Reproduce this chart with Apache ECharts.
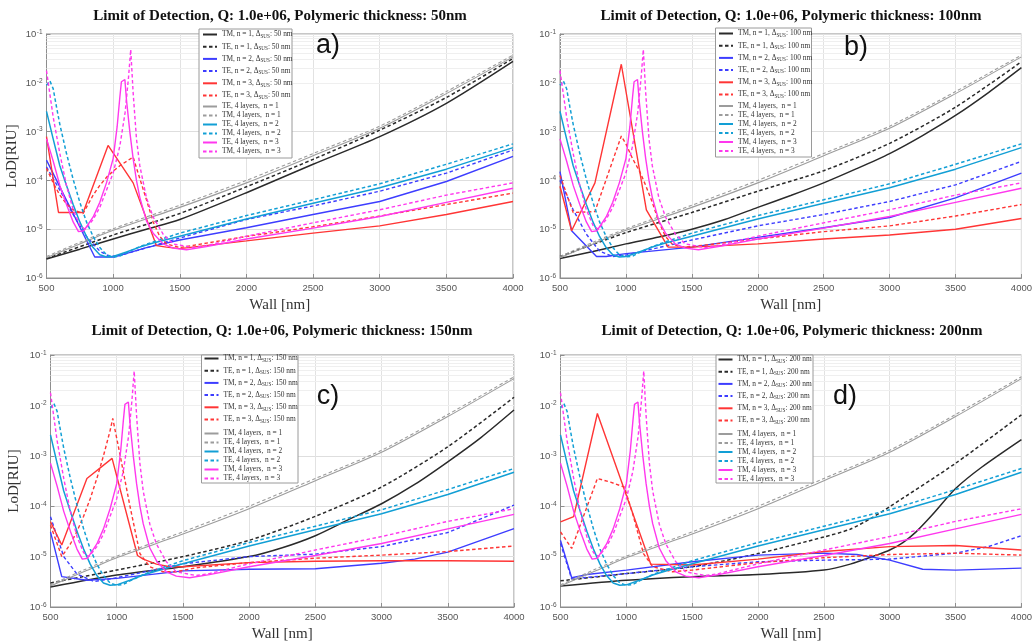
<!DOCTYPE html>
<html>
<head>
<meta charset="utf-8">
<script src="https://cdn.jsdelivr.net/npm/echarts@6/dist/echarts.min.js"></script>
<style>
  html, body { margin: 0; padding: 0; background: #fff; }
  #chart { width: 1035px; height: 643px; }
</style>
</head>
<body>
<div id="chart"></div>
<script>
// ---- Axis ticks ----
const wallTicks = [500, 1000, 1500, 2000, 2500, 3000, 3500, 4000];   // Wall [nm]
const lodRange = [1e-6, 1e-1];                                       // LoD [RIU]

// ---- Panel headings ----
const polymericThickness = [50, 100, 150, 200];   // nm, also the ΔSUS value of each panel
const panelTags = ['a)', 'b)', 'c)', 'd)'];

// ---- Legend labels ----
const modeLabels = ['TM, n = 1', 'TE, n = 1', 'TM, n = 2', 'TE, n = 2', 'TM, n = 3', 'TE, n = 3'];
const fourLayerLabelsA = ['TE, 4 layers,  n = 1', 'TM, 4 layers,  n = 1', 'TE, 4 layers,  n = 2',
                          'TM, 4 layers,  n = 2', 'TE, 4 layers,  n = 3', 'TM, 4 layers,  n = 3'];
const fourLayerLabels  = ['TM, 4 layers,  n = 1', 'TE, 4 layers,  n = 1', 'TM, 4 layers,  n = 2',
                          'TE, 4 layers,  n = 2', 'TM, 4 layers,  n = 3', 'TE, 4 layers,  n = 3'];

// ---- 4-layer reference curves (same in every panel): [wall nm, LoD] ----
const layersN1Solid = [[500,2.6e-6],[750,5.0e-6],[1000,9.5e-6],[1500,2.8e-5],[2000,8.9e-5],[2500,3.2e-4],[3000,1.17e-3],[3500,6.0e-3],[4000,3.4e-2]];
const layersN1Dash  = [[500,2.75e-6],[750,5.4e-6],[1000,1.02e-5],[1500,3.1e-5],[2000,1.0e-4],[2500,3.55e-4],[3000,1.29e-3],[3500,6.6e-3],[4000,3.7e-2]];
const layersN2Solid = [[500,2.6e-3],[550,7.1e-4],[600,2.0e-4],[650,7.9e-5],[700,3.2e-5],[750,1.41e-5],[800,7.1e-6],[850,4.2e-6],[900,3.0e-6],[950,2.7e-6],[1000,2.75e-6],[1100,3.4e-6],[1200,4.3e-6],[1300,5.2e-6],[1500,7.2e-6],[2000,1.62e-5],[2500,3.4e-5],[3000,7.1e-5],[3500,1.7e-4],[4000,4.7e-4]];
const layersN2Dash  = [[500,8.9e-3],[525,1.1e-2],[550,7.6e-3],[575,3.2e-3],[600,1.41e-3],[650,3.55e-4],[700,1.05e-4],[750,3.55e-5],[800,1.41e-5],[850,7.1e-6],[900,4.2e-6],[950,3.0e-6],[1000,2.7e-6],[1050,2.8e-6],[1100,3.3e-6],[1200,4.4e-6],[1300,5.5e-6],[1500,8.3e-6],[2000,1.9e-5],[2500,4.0e-5],[3000,8.5e-5],[3500,2.14e-4],[4000,5.6e-4]];
const layersN3Solid = [[500,7.1e-4],[550,2.5e-4],[600,7.9e-5],[650,3.2e-5],[700,1.41e-5],[740,8.9e-6],[780,9.3e-6],[850,1.78e-5],[900,3.55e-5],[950,8.9e-5],[1000,2.8e-4],[1030,1.26e-3],[1050,5.0e-3],[1062,1.05e-2],[1088,1.17e-2],[1100,4.5e-3],[1125,1.0e-3],[1150,2.8e-4],[1175,1.0e-4],[1200,4.5e-5],[1250,1.48e-5],[1300,8.3e-6],[1375,5.0e-6],[1450,4.1e-6],[1550,3.8e-6],[1700,4.4e-6],[2000,6.3e-6],[2500,1.05e-5],[3000,1.82e-5],[3500,3.55e-5],[4000,6.9e-5]];
const layersN3Dash  = [[500,1.78e-2],[550,2.0e-3],[600,3.55e-4],[650,7.9e-5],[700,2.5e-5],[750,1.2e-5],[790,1.0e-5],[850,1.58e-5],[900,2.8e-5],[950,6.3e-5],[1000,1.41e-4],[1050,5.0e-4],[1090,2.5e-3],[1115,1.26e-2],[1132,4.8e-2],[1140,4.4e-2],[1150,6.3e-3],[1175,7.1e-4],[1200,2.0e-4],[1250,4.4e-5],[1300,1.78e-5],[1375,7.9e-6],[1450,5.0e-6],[1600,4.2e-6],[1700,4.6e-6],[2000,7.2e-6],[2500,1.35e-5],[3000,2.5e-5],[3500,5.0e-5],[4000,8.9e-5]];

// ---- Polymeric-layer curves, ΔSUS = 50 nm ----
const tmN1_50 = [[500,2.45e-6],[750,3.9e-6],[1000,6.3e-6],[1250,1.0e-5],[1500,1.58e-5],[2000,5.6e-5],[2500,2.14e-4],[3000,7.9e-4],[3500,3.8e-3],[4000,2.75e-2]];
const teN1_50 = [[500,2.5e-6],[1000,7.6e-6],[1500,2.1e-5],[2000,7.4e-5],[2500,2.7e-4],[3000,1.07e-3],[3500,5.0e-3],[4000,3.16e-2]];
const tmN2_50 = [[500,2.6e-4],[862,2.7e-6],[1012,2.7e-6],[1250,4.2e-6],[1500,6.0e-6],[2000,1.07e-5],[2500,2.0e-5],[3000,3.7e-5],[3500,9.5e-5],[4000,3.1e-4]];
const teN2_50 = [[500,1.9e-4],[600,6.3e-5],[700,2.0e-5],[800,7.1e-6],[900,3.55e-6],[975,2.75e-6],[1050,2.9e-6],[1200,3.8e-6],[1500,6.6e-6],[2000,1.58e-5],[2500,3.0e-5],[3000,6.0e-5],[3500,1.41e-4],[4000,4.2e-4]];
const tmN3_50 = [[500,7.9e-4],[590,2.2e-5],[775,2.2e-5],[962,5.2e-4],[1150,8.9e-5],[1325,4.6e-6],[1400,4.3e-6],[1500,4.0e-6],[2000,5.75e-6],[2500,8.3e-6],[3000,1.17e-5],[3500,2.0e-5],[4000,3.7e-5]];
const teN3_50 = [[500,1.78e-4],[550,8.9e-5],[600,5.0e-5],[650,3.3e-5],[700,2.5e-5],[775,2.1e-5],[850,5.0e-5],[900,7.9e-5],[962,1.26e-4],[1050,2.0e-4],[1150,3.0e-4],[1170,2.0e-4],[1250,4.0e-5],[1300,1.41e-5],[1350,7.1e-6],[1400,5.0e-6],[1500,4.2e-6],[2000,7.1e-6],[2500,1.12e-5],[3000,1.86e-5],[3500,3.2e-5],[4000,5.5e-5]];

// ---- ΔSUS = 100 nm ----
const tmN1_100 = [[500,2.5e-6],[750,3.5e-6],[1000,5.0e-6],[1250,6.9e-6],[1500,1.0e-5],[1750,1.58e-5],[2000,2.8e-5],[2250,4.9e-5],[2500,8.9e-5],[2750,1.74e-4],[3000,3.55e-4],[3250,8.3e-4],[3500,2.14e-3],[3750,6.3e-3],[4000,2.04e-2]];
const teN1_100 = [[500,2.75e-6],[1000,8.5e-6],[1500,2.2e-5],[2000,6.0e-5],[2500,1.58e-4],[3000,5.75e-4],[3500,3.16e-3],[4000,2.7e-2]];
const tmN2_100 = [[500,1.51e-4],[588,9.3e-6],[777,2.75e-6],[850,2.75e-6],[1000,3.16e-6],[1500,4.3e-6],[2000,6.8e-6],[2500,1.07e-5],[3000,1.74e-5],[3500,4.4e-5],[4000,1.41e-4]];
const teN2_100 = [[500,1.0e-4],[600,2.5e-5],[700,7.9e-6],[800,3.55e-6],[900,2.75e-6],[1000,2.95e-6],[1500,6.0e-6],[2000,1.17e-5],[2500,2.0e-5],[3000,3.7e-5],[3500,8.1e-5],[4000,2.45e-4]];
const tmN3_100 = [[500,7.6e-5],[588,9.3e-6],[765,8.9e-5],[965,2.4e-2],[1155,2.5e-5],[1320,4.3e-6],[1500,4.3e-6],[2000,5.0e-6],[2500,6.3e-6],[3000,7.6e-6],[3500,1.0e-5],[4000,1.66e-5]];
const teN3_100 = [[500,1.26e-4],[600,2.2e-5],[765,2.3e-5],[965,8.1e-4],[1000,5.6e-4],[1050,2.8e-4],[1105,1.51e-4],[1150,7.9e-5],[1200,3.55e-5],[1250,1.41e-5],[1300,7.1e-6],[1350,5.0e-6],[1420,4.3e-6],[1500,4.4e-6],[2000,6.3e-6],[2500,8.9e-6],[3000,1.17e-5],[3500,1.86e-5],[4000,3.2e-5]];

// ---- ΔSUS = 150 nm ----
const tmN1_150 = [[500,2.5e-6],[1000,4.3e-6],[1500,6.3e-6],[2000,1.0e-5],[2250,1.5e-5],[2500,2.6e-5],[2750,5.4e-5],[3000,1.12e-4],[3250,2.7e-4],[3500,7.6e-4],[3750,2.3e-3],[4000,8.1e-3]];
const teN1_150 = [[500,3.0e-6],[1000,5.4e-6],[1500,1.0e-5],[2000,2.1e-5],[2500,6.3e-5],[3000,2.4e-4],[3500,1.51e-3],[4000,1.45e-2]];
const tmN2_150 = [[500,3.1e-5],[585,4.0e-6],[775,3.4e-6],[1000,3.7e-6],[1500,5.2e-6],[2000,5.6e-6],[2500,5.75e-6],[3000,7.4e-6],[3250,8.9e-6],[3500,1.23e-5],[4000,3.6e-5]];
const teN2_150 = [[500,6.2e-5],[600,1.0e-5],[700,4.5e-6],[830,3.2e-6],[1000,3.8e-6],[1500,7.2e-6],[2000,1.0e-5],[2500,1.12e-5],[3000,1.58e-5],[3500,3.0e-5],[4000,1.05e-4]];
const tmN3_150 = [[500,4.9e-5],[585,1.7e-5],[775,3.55e-4],[965,8.9e-4],[1157,1.05e-5],[1200,8.9e-6],[1300,7.1e-6],[1400,6.3e-6],[1500,6.3e-6],[2000,7.6e-6],[2500,8.1e-6],[3000,8.3e-6],[3500,8.3e-6],[4000,8.1e-6]];
const teN3_150 = [[500,4.2e-5],[585,1.0e-5],[650,1.78e-5],[700,3.16e-5],[750,6.3e-5],[800,1.41e-4],[850,3.55e-4],[900,1.0e-3],[950,3.16e-3],[970,5.5e-3],[1025,1.05e-3],[1100,1.0e-4],[1175,1.15e-5],[1250,6.3e-6],[1350,5.0e-6],[1450,5.0e-6],[1600,6.0e-6],[2000,7.6e-6],[2500,9.3e-6],[3000,1.07e-5],[3500,1.26e-5],[4000,1.62e-5]];

// ---- ΔSUS = 200 nm ----
const tmN1_200 = [[500,2.6e-6],[1000,3.4e-6],[1500,4.0e-6],[2000,4.4e-6],[2500,5.4e-6],[2700,7.1e-6],[2900,1.07e-5],[3000,1.35e-5],[3100,1.9e-5],[3200,3.1e-5],[3320,6.6e-5],[3500,2.24e-4],[3700,6.0e-4],[4000,2.1e-3]];
const teN1_200 = [[500,3.3e-6],[1000,4.6e-6],[1500,6.3e-6],[2000,1.15e-5],[2500,2.45e-5],[2700,3.5e-5],[2850,5.6e-5],[3000,9.8e-5],[3500,7.1e-4],[4000,6.5e-3]];
const tmN2_200 = [[500,2.1e-5],[585,3.8e-6],[700,4.4e-6],[1000,5.4e-6],[1500,7.9e-6],[2000,1.07e-5],[2500,1.17e-5],[2750,1.1e-5],[3000,8.5e-6],[3250,5.6e-6],[3500,5.4e-6],[4000,5.9e-6]];
const teN2_200 = [[500,1.82e-5],[585,3.6e-6],[1000,4.6e-6],[1500,6.3e-6],[2000,7.9e-6],[2500,8.5e-6],[3000,8.9e-6],[3500,1.17e-5],[3750,1.58e-5],[4000,2.6e-5]];
const tmN3_200 = [[500,4.9e-5],[600,6.2e-5],[780,6.9e-3],[1185,7.1e-6],[1200,6.5e-6],[1500,6.8e-6],[2000,8.9e-6],[2500,1.26e-5],[3000,1.58e-5],[3500,1.66e-5],[4000,1.35e-5]];
const teN3_200 = [[500,3.1e-5],[585,1.45e-5],[780,3.55e-4],[880,3.0e-4],[985,2.4e-4],[1050,6.8e-5],[1100,2.24e-5],[1130,1.15e-5],[1200,6.3e-6],[1350,5.0e-6],[1500,5.4e-6],[2000,7.6e-6],[2500,9.5e-6],[3000,1.1e-5],[3500,1.17e-5],[4000,1.07e-5]];

// ---- Styling ----
const BLACK = '#2a2a2a', BLUE = '#3d3dff', RED = '#ff3535', GRAY = '#9c9c9c', CYAN = '#129fd5', MAGENTA = '#ff38ee';
const DASH = [3.5, 2.5];
const SERIF = "'Liberation Serif', 'Times New Roman', serif";
const SANS = "'Liberation Sans', Arial, sans-serif";
const curveStyles = [
  { color: BLACK, type: 'solid', width: 1.5 }, { color: BLACK, type: DASH, width: 1.5 },
  { color: BLUE, type: 'solid', width: 1.4 },  { color: BLUE, type: DASH, width: 1.4 },
  { color: RED, type: 'solid', width: 1.4 },   { color: RED, type: DASH, width: 1.4 },
  { color: GRAY, type: 'solid', width: 1.1 },  { color: GRAY, type: DASH, width: 1.1 },
  { color: CYAN, type: 'solid', width: 1.5 },  { color: CYAN, type: DASH, width: 1.5 },
  { color: MAGENTA, type: 'solid', width: 1.4 }, { color: MAGENTA, type: DASH, width: 1.4 }
];
const smoothCurves = new Set([0, 1, 6, 7]);

// plot rectangles, legend boxes and text anchors for the 2x2 layout
const gridBoxes = [
  { left: 46.5, top: 34, width: 466.5, height: 244 },
  { left: 560, top: 34, width: 462.5, height: 244 },
  { left: 50.5, top: 355, width: 463.5, height: 252 },
  { left: 560.5, top: 355, width: 463.5, height: 252 }
];
const legendBoxes = [
  { x: 199, y: 29, w: 93, h: 129, left: 202, top1: 31, top2: 103 },
  { x: 715.5, y: 28, w: 96, h: 129, left: 718, top1: 30, top2: 102.5 },
  { x: 201.5, y: 355, w: 96.5, h: 128, left: 203.5, top1: 355, top2: 430 },
  { x: 716, y: 355, w: 97, h: 128, left: 717.5, top1: 356, top2: 430.5 }
];
const titleAnchors = [[280, 16], [791, 16], [282, 331], [792, 331]];
const tagAnchors = [[328, 46], [856, 48], [328, 397], [845, 397]];

const panelCurves = [
  [tmN1_50, teN1_50, tmN2_50, teN2_50, tmN3_50, teN3_50],
  [tmN1_100, teN1_100, tmN2_100, teN2_100, tmN3_100, teN3_100],
  [tmN1_150, teN1_150, tmN2_150, teN2_150, tmN3_150, teN3_150],
  [tmN1_200, teN1_200, tmN2_200, teN2_200, tmN3_200, teN3_200]
];
const layerCurves = [layersN1Solid, layersN1Dash, layersN2Solid, layersN2Dash, layersN3Solid, layersN3Dash];
const panelKeys = ['a', 'b', 'c', 'd'];

// minor log grid lines at 2..9 of each decade
const minorGrid = [];
for (let e = -6; e < -1; e++) for (let k = 2; k <= 9; k++) minorGrid.push(k * Math.pow(10, e));

function legendText(name) {
  const txt = name.slice(2);
  const k = txt.indexOf('ΔSUS');
  if (k < 0) return '{t|' + txt + '}';
  return '{t|' + txt.slice(0, k) + 'Δ}{s|SUS}{t|' + txt.slice(k + 4) + '}';
}

const grid = [], xAxis = [], yAxis = [], series = [], legend = [], graphics = [];

gridBoxes.forEach((g, i) => {
  grid.push(Object.assign({ show: true, borderColor: '#8e8e8e', borderWidth: 1, backgroundColor: '#fff' }, g));

  xAxis.push({
    type: 'value', gridIndex: i, min: wallTicks[0], max: wallTicks[wallTicks.length - 1], interval: 500,
    name: 'Wall [nm]', nameLocation: 'middle', nameGap: 20,
    nameTextStyle: { fontFamily: SERIF, fontSize: 15, color: '#333' },
    axisLine: { show: true, lineStyle: { color: '#8e8e8e', width: 1 } },
    axisTick: { show: true, inside: true, length: 4, lineStyle: { color: '#8e8e8e' } },
    axisLabel: { fontFamily: SANS, fontSize: 9.5, color: '#555', margin: 5, formatter: v => String(v) },
    splitLine: { show: true, lineStyle: { color: '#e2e2e2', width: 1 } }
  });

  yAxis.push({
    type: 'log', logBase: 10, gridIndex: i, min: lodRange[0], max: lodRange[1],
    name: (i % 2 === 0) ? 'LoD[RIU]' : '', nameLocation: 'middle', nameGap: i === 0 ? 27 : 29,
    nameTextStyle: { fontFamily: SERIF, fontSize: 15, color: '#333' },
    axisLine: { show: true, lineStyle: { color: '#8e8e8e', width: 1 } },
    axisTick: { show: true, inside: true, length: 4, lineStyle: { color: '#8e8e8e' } },
    axisLabel: {
      margin: 4,
      formatter: v => '{b|10}{e|' + Math.round(Math.log10(v)) + '}',
      rich: {
        b: { fontFamily: SANS, fontSize: 9.5, color: '#555', lineHeight: 11, verticalAlign: 'bottom' },
        e: { fontFamily: SANS, fontSize: 6.5, color: '#555', lineHeight: 11, verticalAlign: 'top', padding: [0, 0, 0, 0.5] }
      }
    },
    splitLine: { show: true, lineStyle: { color: '#dedede', width: 1 } }
  });

  // minor grid
  series.push({
    type: 'line', xAxisIndex: i, yAxisIndex: i, data: [], silent: true,
    markLine: {
      silent: true, symbol: ['none', 'none'], label: { show: false },
      lineStyle: { color: '#efefef', width: 1, type: 'solid' },
      emphasis: { disabled: true }, animation: false,
      data: minorGrid.map(v => ({ yAxis: v }))
    }
  });

  const labels = modeLabels.map(l => l + ', ΔSUS: ' + polymericThickness[i] + ' nm')
    .concat(i === 0 ? fourLayerLabelsA : fourLayerLabels);
  const names = labels.map(l => panelKeys[i] + '#' + l);
  const curves = panelCurves[i].concat(layerCurves);

  curves.forEach((data, j) => {
    const st = curveStyles[j];
    series.push({
      type: 'line', name: names[j], xAxisIndex: i, yAxisIndex: i, data: data,
      symbol: 'none', showSymbol: false, z: 6,
      smooth: smoothCurves.has(j) ? 0.25 : false,
      lineStyle: { color: st.color, type: st.type, width: st.width },
      itemStyle: { color: st.color },
      emphasis: { disabled: true }
    });
  });

  const lb = legendBoxes[i];
  const legendBase = {
    orient: 'vertical', left: lb.left, padding: 0, selectedMode: false, z: 20,
    itemWidth: 14, itemHeight: 8,
    itemStyle: { opacity: 0 },
    formatter: legendText,
    textStyle: {
      color: '#333', fontFamily: SERIF, fontSize: 7.4,
      rich: {
        t: { fontFamily: SERIF, fontSize: 7.4, color: '#333', lineHeight: 9 },
        s: { fontFamily: SERIF, fontSize: 5.2, color: '#333', lineHeight: 9, verticalAlign: 'bottom' }
      }
    }
  };
  legend.push(Object.assign({}, legendBase, { top: lb.top1, itemGap: 4.2, data: names.slice(0, 6) }));
  legend.push(Object.assign({}, legendBase, { top: lb.top2, itemGap: 2, data: names.slice(6) }));

  graphics.push({
    type: 'rect', z: 15, silent: true,
    shape: { x: lb.x, y: lb.y, width: lb.w, height: lb.h },
    style: { fill: '#fff', stroke: '#9a9a9a', lineWidth: 1 }
  });
  graphics.push({
    type: 'text', z: 15, silent: true, x: titleAnchors[i][0], y: titleAnchors[i][1],
    style: {
      text: 'Limit of Detection, Q: 1.0e+06, Polymeric thickness: ' + polymericThickness[i] + 'nm',
      fontFamily: SERIF, fontWeight: 'bold', fontSize: 15, fill: '#111',
      align: 'center', verticalAlign: 'middle', textAlign: 'center', textVerticalAlign: 'middle'
    }
  });
  graphics.push({
    type: 'text', z: 15, silent: true, x: tagAnchors[i][0], y: tagAnchors[i][1],
    style: {
      text: panelTags[i], fontFamily: SANS, fontSize: 27, fill: '#111',
      align: 'center', verticalAlign: 'middle', textAlign: 'center', textVerticalAlign: 'middle'
    }
  });
});

const chart = echarts.init(document.getElementById('chart'), null, { renderer: 'canvas' });
chart.setOption({
  backgroundColor: '#fff',
  animation: false,
  grid: grid,
  xAxis: xAxis,
  yAxis: yAxis,
  legend: legend,
  series: series,
  graphic: { elements: graphics }
});
</script>
</body>
</html>
